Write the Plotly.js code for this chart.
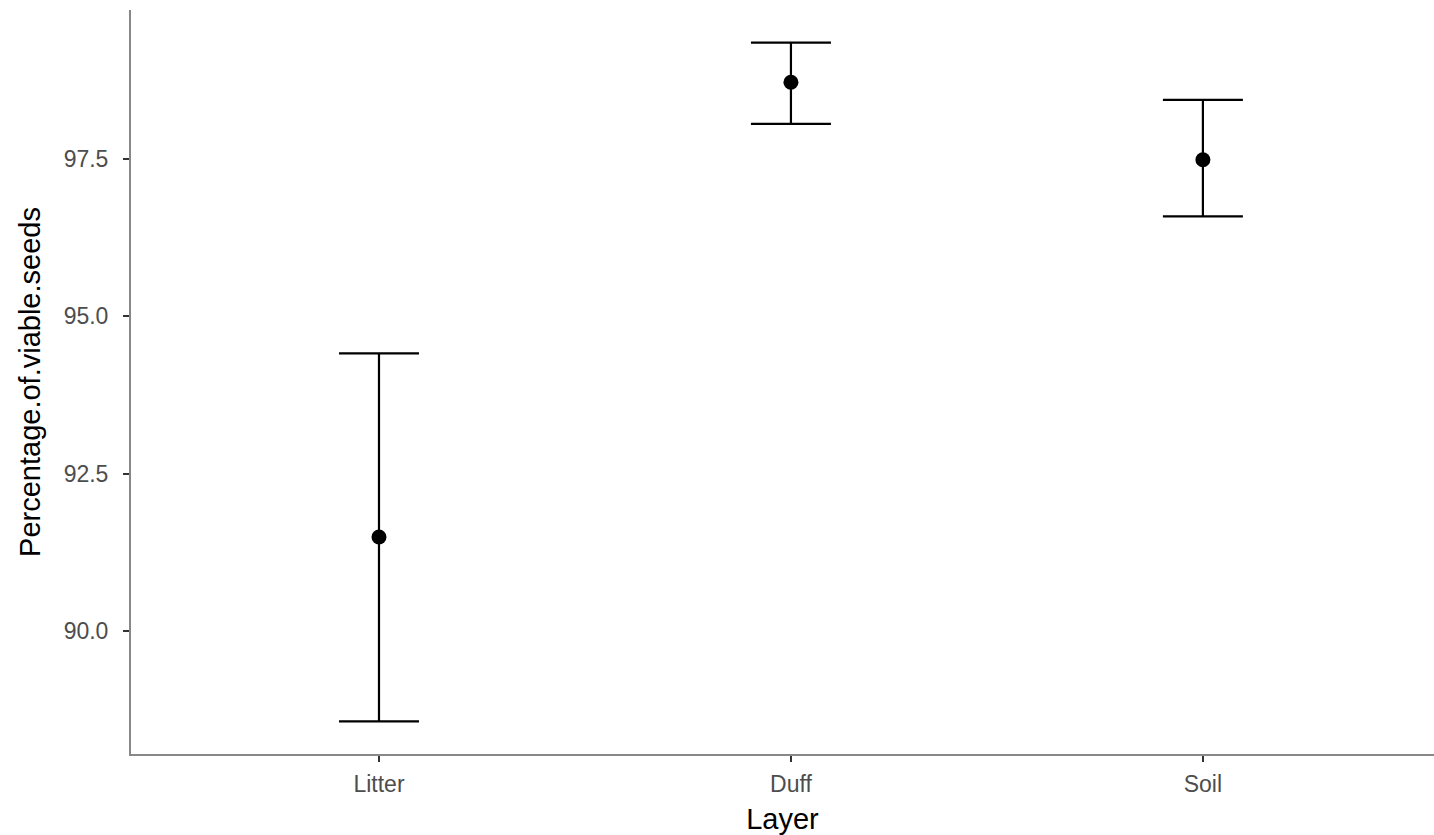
<!DOCTYPE html>
<html>
<head>
<meta charset="utf-8">
<script src="https://cdn.plot.ly/plotly-3.0.1.min.js"></script>
<style>html,body{margin:0;padding:0;background:#fff;}#chart{width:1434px;height:835px;}</style>
</head>
<body>
<div id="chart"></div>
<script>
const layers = ["Litter", "Duff", "Soil"];
const meanPct = [91.49, 98.72, 97.49];
const upperPct = [94.41, 99.35, 98.44];
const lowerPct = [88.56, 98.06, 96.59];
const yTicks = [90.0, 92.5, 95.0, 97.5];
const yTickText = ["90.0", "92.5", "95.0", "97.5"];

const errPlus = meanPct.map((m, i) => upperPct[i] - m);
const errMinus = meanPct.map((m, i) => m - lowerPct[i]);

const font = "Liberation Sans, Arial, Helvetica, sans-serif";

const trace = {
  type: "scatter",
  mode: "markers",
  x: layers,
  y: meanPct,
  marker: {color: "#000000", size: 15},
  error_y: {
    type: "data",
    symmetric: false,
    array: errPlus,
    arrayminus: errMinus,
    color: "#000000",
    thickness: 2.2,
    width: 40
  },
  hoverinfo: "x+y"
};

const layout = {
  width: 1434,
  height: 835,
  paper_bgcolor: "#ffffff",
  plot_bgcolor: "#ffffff",
  margin: {l: 131, r: 0, t: 10, b: 81},
  showlegend: false,
  font: {family: font},
  xaxis: {
    type: "category",
    categoryorder: "array",
    categoryarray: layers,
    range: [-0.602, 2.561],
    showgrid: false,
    zeroline: false,
    showline: true,
    linecolor: "#888888",
    linewidth: 2,
    ticks: "outside",
    ticklen: 6,
    tickwidth: 2,
    tickcolor: "#333333",
    ticklabelstandoff: 2,
    tickfont: {family: font, size: 23, color: "#4d4d4d"},
    title: {text: "Layer", font: {family: font, size: 29, color: "#000000"}, standoff: 14},
    automargin: false
  },
  yaxis: {
    range: [88.04, 99.87],
    tickvals: yTicks,
    ticktext: yTickText,
    showgrid: false,
    zeroline: false,
    showline: true,
    linecolor: "#888888",
    linewidth: 2,
    ticks: "outside",
    ticklen: 6,
    tickwidth: 2,
    tickcolor: "#333333",
    ticklabelstandoff: 10,
    tickfont: {family: font, size: 23, color: "#4d4d4d"},
    title: {text: "Percentage.of.viable.seeds", font: {family: font, size: 29, color: "#000000"}, standoff: 14},
    automargin: false
  }
};

Plotly.newPlot("chart", [trace], layout, {displayModeBar: false, staticPlot: true});
</script>
</body>
</html>
